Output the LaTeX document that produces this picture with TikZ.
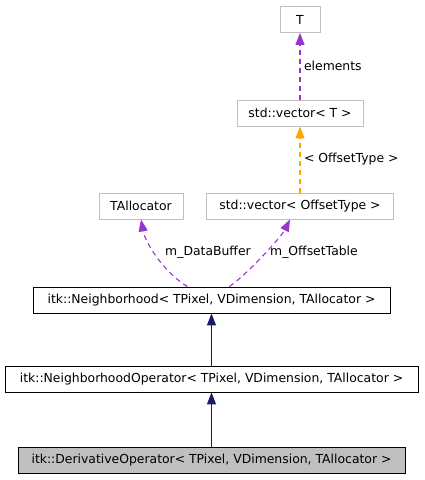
\documentclass[tikz,border=0pt]{standalone}
\usepackage{fontspec}
\setmainfont{DejaVu Sans}
\usetikzlibrary{arrows.meta,calc}
\definecolor{edgepurple}{HTML}{9A32CD}
\definecolor{edgeorange}{HTML}{FFA500}
\definecolor{navyblue}{HTML}{191970}
\definecolor{boxgray}{HTML}{BFBFBF}
\begin{document}
\begin{tikzpicture}[x=1pt,y=-1pt,
  every node/.style={font=\fontsize{12.4}{14}\selectfont},
  box/.style={draw, minimum height=26pt, inner sep=0pt, line width=0.9pt},
  extbox/.style={box, draw=boxgray},
  clsbox/.style={box, draw=black},
  usage/.style={draw=edgepurple, dash pattern=on 5pt off 4pt, line width=1.1pt, -{Triangle[length=12pt,width=9pt]}},
  tmpl/.style={draw=edgeorange, dash pattern=on 5pt off 4pt, line width=1.1pt, -{Triangle[length=12pt,width=9pt]}},
  inherit/.style={draw=navyblue, line width=1.1pt, -{Triangle[length=12pt,width=9pt]}},
  lbl/.style={inner sep=3.5pt}
]
\useasboundingbox (0,0) rectangle (424,480);

\node[extbox, minimum width=40pt] (t) at (300,19.5) {T};
\node[extbox, minimum width=126pt] (vt) at (300,113) {std::vector< T >};
\node[extbox, minimum width=84pt] (ta) at (141,206) {TAllocator};
\node[extbox, minimum width=187pt] (vo) at (300,206) {std::vector< OffsetType >};
\node[clsbox, minimum width=357pt] (nb) at (211.5,300) {itk::Neighborhood< TPixel, VDimension, TAllocator >};
\node[clsbox, minimum width=413pt] (no) at (211.5,379) {itk::NeighborhoodOperator< TPixel, VDimension, TAllocator >};
\node[clsbox, fill=boxgray, minimum width=387pt] (do) at (211.5,460) {itk::DerivativeOperator< TPixel, VDimension, TAllocator >};

\draw[usage] (vt.north) -- (t.south) node[midway, right, lbl] {elements};
\draw[tmpl] (vo.north) -- (vt.south) node[midway, right, lbl] {< OffsetType >};
\draw[usage] ([xshift=-24pt]nb.north) .. controls +(-25,-15) and +(4,22) .. (ta.south);
\node[lbl] (ldb) at (208,252) {m\_DataBuffer};
\draw[usage] ([xshift=18pt]nb.north) .. controls +(22,-16) and +(-8,16) .. ([xshift=-10pt]vo.south);
\node[lbl] (lot) at (314,252) {m\_OffsetTable};

\draw[inherit] (no.north) -- (nb.south);
\draw[inherit] (do.north) -- (no.south);
\end{tikzpicture}
\end{document}
